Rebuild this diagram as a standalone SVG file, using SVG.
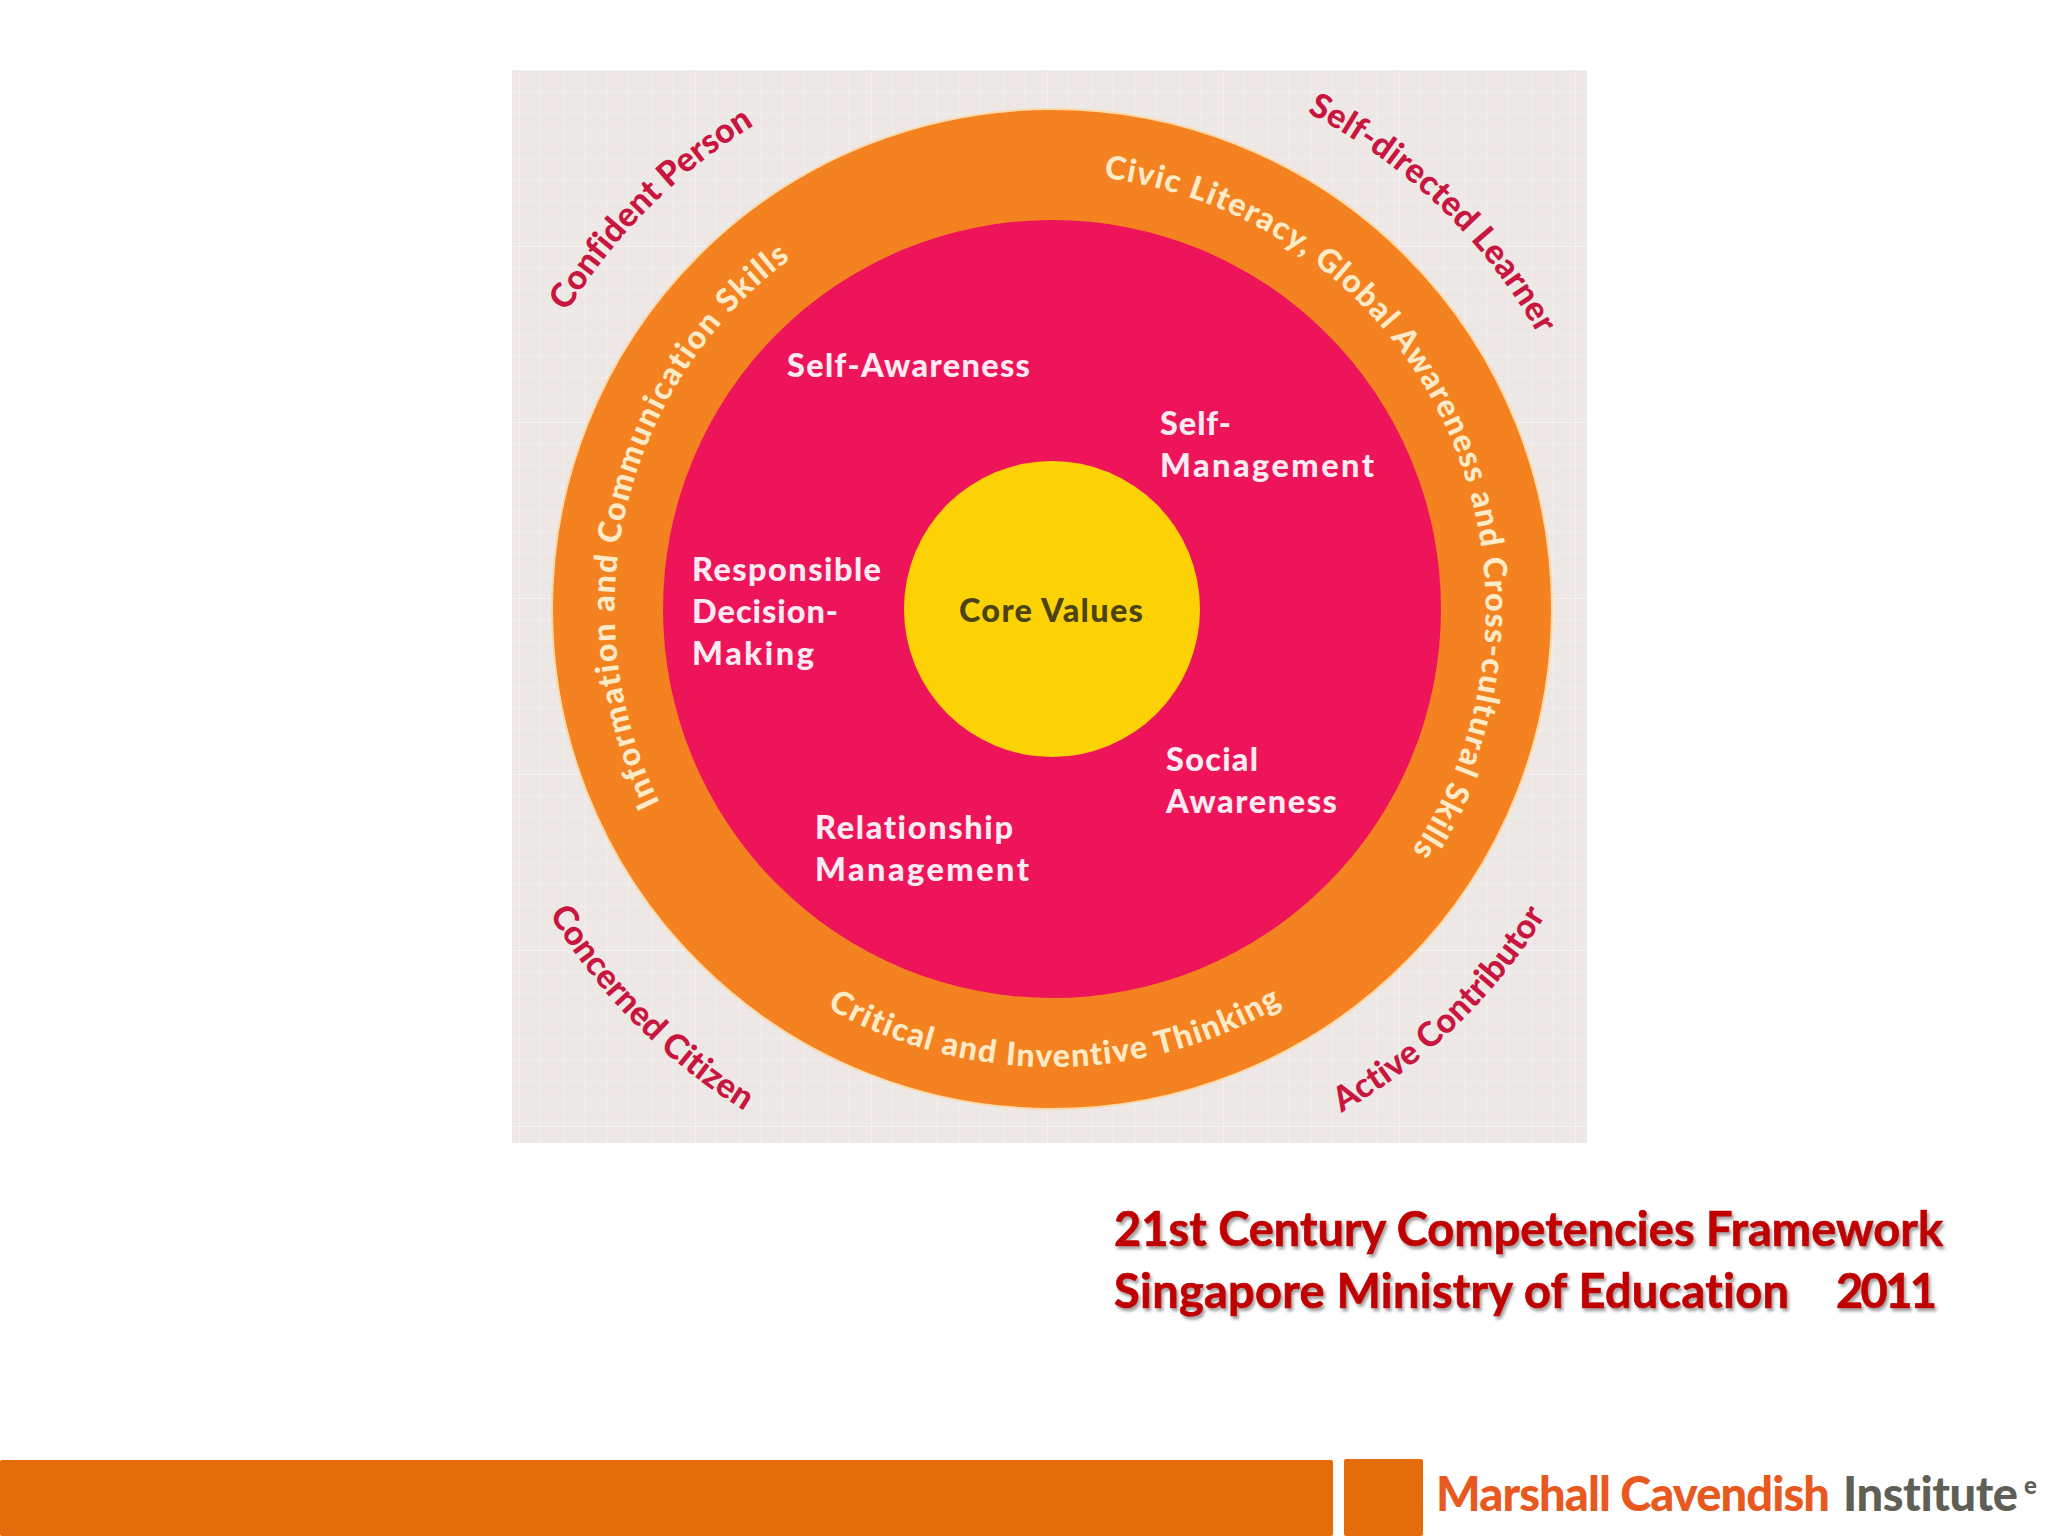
<svg xmlns="http://www.w3.org/2000/svg" width="2048" height="1536" viewBox="0 0 2048 1536">
<style>
text{font-variant-ligatures:none}
.ring{font-family:Lato,"Noto Sans",sans-serif;font-weight:900;font-size:32px;fill:#fdebc8}
.out{font-family:Lato,"Noto Sans",sans-serif;font-weight:900;font-size:34px;fill:#c9163f}
.in{font-family:Lato,"Noto Sans",sans-serif;font-weight:900;font-size:32.5px;fill:#fdeaf3}
.title{font-family:Lato,"Liberation Sans",sans-serif;font-weight:700;font-size:47px;fill:#c00000;stroke:#c00000;stroke-width:.7;filter:url(#sh)}
.logo{font-family:Lato,"Liberation Sans",sans-serif;font-weight:900;font-size:47px}
</style>
<defs>
<filter id="sh" x="-5%" y="-20%" width="110%" height="150%"><feDropShadow dx="2" dy="3" stdDeviation="1.5" flood-color="#555" flood-opacity=".55"/></filter>
<pattern id="grid" width="176" height="176" patternUnits="userSpaceOnUse" x="519" y="70">
<path d="M0 0V176M0 0H176" stroke="#fff" stroke-width="1.5" opacity=".55" fill="none"/>
<path d="M22 0V176M44 0V176M66 0V176M88 0V176M110 0V176M132 0V176M154 0V176M0 22H176M0 44H176M0 66H176M0 88H176M0 110H176M0 132H176M0 154H176" stroke="#fff" stroke-width="1" opacity=".22" fill="none"/>
</pattern>
<path id="pInfo" d="M660 803A437 437 0 0 1 834.5 230"/>
<path id="pCivic" d="M1103.7 178A434 434 0 0 1 1384 888"/>
<path id="pCrit" d="M827.2 1008A458 458 0 0 0 1314.7 984.2"/>
<path id="pConf" d="M567 312A568 568 0 0 1 812.8 94"/>
<path id="pSelf" d="M1307 112.7A558 558 0 0 1 1561.8 382"/>
<path id="pConc" d="M549 914A589 589 0 0 0 804 1143"/>
<path id="pAct" d="M1341.6 1112.7A581 581 0 0 0 1574.2 863.7"/>
</defs>
<rect width="2048" height="1536" fill="#fff"/>
<g id="panel">
<rect x="512" y="70" width="1075" height="1073" fill="#ede8e6"/>
<rect x="512" y="70" width="1075" height="1073" fill="url(#grid)"/>
</g>
<g id="ring-outer">
<circle cx="1052" cy="609" r="500" fill="#f58220" stroke="#fcd9a8" stroke-width="2"/>
<text class="ring"><textPath href="#pInfo" textLength="607">Information and Communication Skills</textPath></text>
<text class="ring"><textPath href="#pCivic" textLength="886">Civic Literacy, Global Awareness and Cross-cultural Skills</textPath></text>
<text class="ring"><textPath href="#pCrit" textLength="476">Critical and Inventive Thinking</textPath></text>
</g>
<g id="ring-pink">
<circle cx="1052" cy="609" r="389" fill="#ee1459"/>
<text class="in" x="787" y="377" textLength="243">Self-Awareness</text>
<text class="in" x="1160" y="435" textLength="71">Self-</text>
<text class="in" x="1160" y="477" textLength="214">Management</text>
<text class="in" x="692" y="581" textLength="189">Responsible</text>
<text class="in" x="692" y="623" textLength="146">Decision-</text>
<text class="in" x="692" y="665" textLength="122">Making</text>
<text class="in" x="1166" y="771" textLength="92">Social</text>
<text class="in" x="1166" y="813" textLength="171">Awareness</text>
<text class="in" x="815" y="839" textLength="198">Relationship</text>
<text class="in" x="815" y="881" textLength="214">Management</text>
</g>
<g id="core">
<circle cx="1052" cy="609" r="148" fill="#fdd205"/>
<text class="in" x="959" y="622" textLength="184" style="fill:#4b4310">Core Values</text>
</g>
<g id="outcomes">
<text class="out"><textPath href="#pConf" textLength="267">Confident Person</textPath></text>
<text class="out"><textPath href="#pSelf" textLength="325">Self-directed Learner</textPath></text>
<text class="out"><textPath href="#pConc" textLength="280">Concerned Citizen</textPath></text>
<text class="out"><textPath href="#pAct" textLength="287">Active Contributor</textPath></text>
</g>
<g id="title">
<text class="title" x="1114" y="1246" textLength="829">21st Century Competencies Framework</text>
<text class="title" x="1114" y="1308" textLength="675">Singapore Ministry of Education</text>
<text class="title" x="1836" y="1308" textLength="101">2011</text>
</g>
<g id="footer">
<rect x="0" y="1460" width="1333" height="76" rx="2" fill="#e46c0a"/>
<rect x="1344" y="1459" width="79" height="77" rx="2" fill="#e46c0a"/>
<text class="logo" x="1436" y="1511" textLength="394" fill="#e8591f">Marshall Cavendish</text>
<text class="logo" x="1843" y="1511" textLength="175" fill="#5f5f55">Institute</text>
<text x="2024" y="1494" font-family="Lato,sans-serif" font-weight="900" font-size="24" fill="#5f5f55">e</text>
</g>
</svg>
